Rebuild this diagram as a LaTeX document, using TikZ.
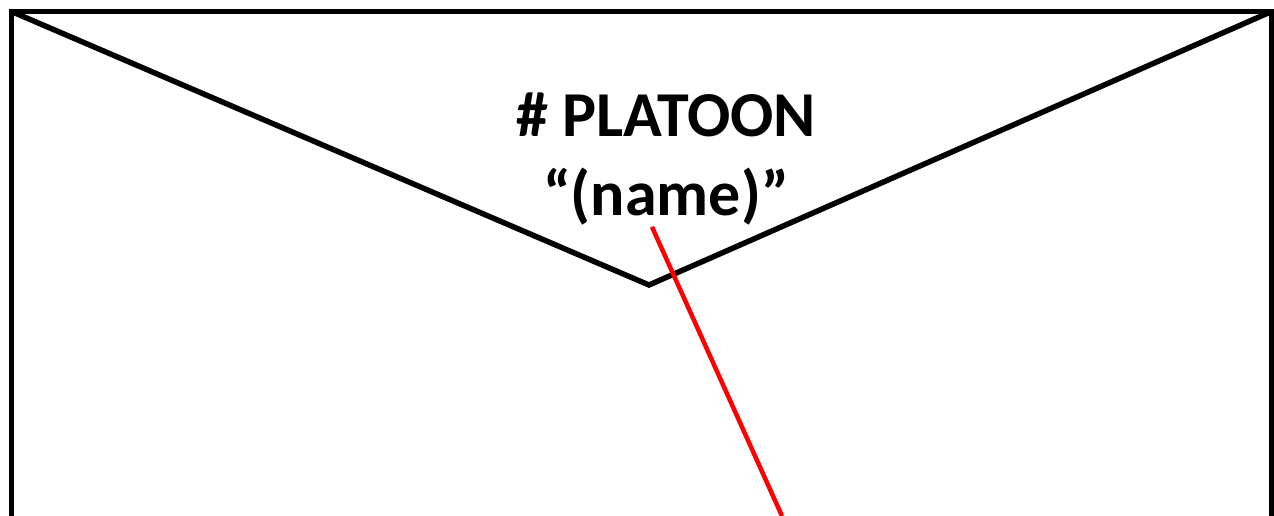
\documentclass[tikz,border=0pt]{standalone}
\usepackage{fontspec}
\setmainfont{Carlito}
\usepackage{tikz}
\usetikzlibrary{calc}
\usetikzlibrary{positioning}
\tikzset{envline/.style={line width=5.5pt, line join=miter}}
\tikzset{title/.style={font=\bfseries\fontsize{64}{79}\selectfont, align=center, inner sep=0pt}}
\tikzset{pointer/.style={red, line width=4.5pt}}

\begin{document}
\begin{tikzpicture}[x=1pt,y=-1pt]
  \useasboundingbox (0,0) rectangle (1274,516);
  \clip (0,0) rectangle (1274,516);
  \foreach \x/\y/\lab in {
    11.5/11.5/tl,
    1271.5/11.5/tr,
    649/285/tip,
    11.5/530/bl,
    1271.5/530/br%
  } {
    \coordinate (\lab) at (\x, \y);
  }
  \draw[envline] (bl) -- (tl) -- (tr) -- (br);
  \draw[envline] (tl) -- (tip) -- (tr);
  \node[title, anchor=base] (platoon) at (666,136) {\# PLATOON};
  \node[title, anchor=base] (name) at (666,215) {“(name)”};
  \coordinate (end) at (782,516);
  \draw[pointer] ($(name.south)+(-14,2)$) -- (end);
\end{tikzpicture}
\end{document}
